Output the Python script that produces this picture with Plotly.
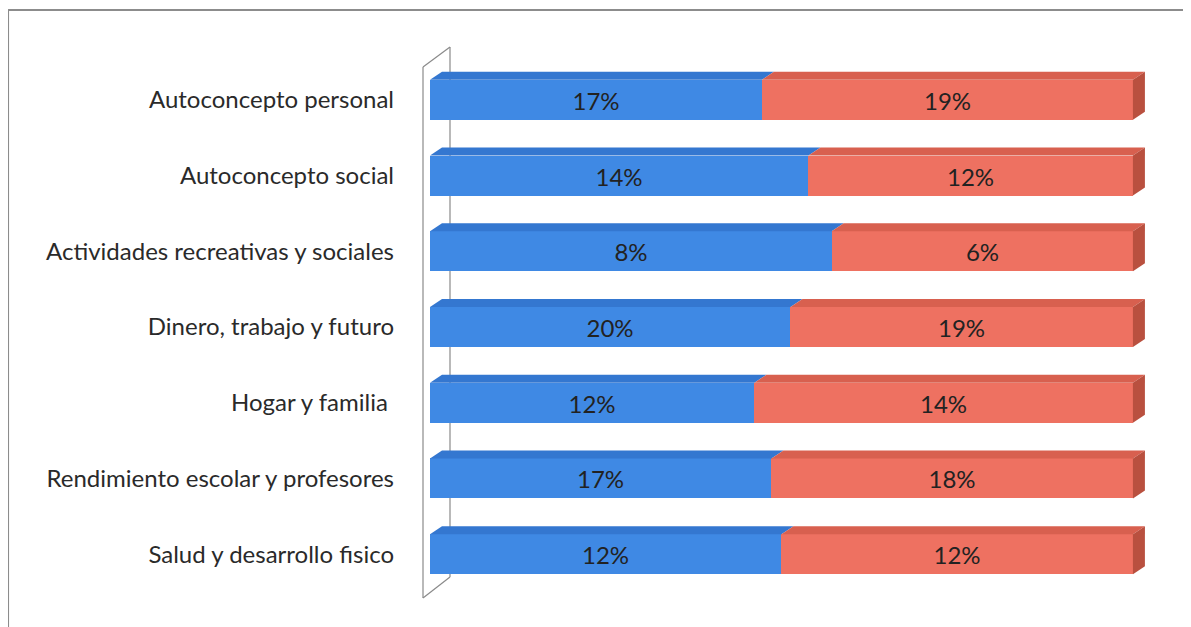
import plotly.graph_objects as go

categories = [
    "Autoconcepto personal",
    "Autoconcepto social",
    "Actividades recreativas y sociales",
    "Dinero, trabajo y futuro",
    "Hogar y familia ",
    "Rendimiento escolar y profesores",
    "Salud y desarrollo fisico",
]
serie_azul = [17, 14, 8, 20, 12, 17, 12]
serie_roja = [19, 12, 6, 19, 14, 18, 12]

OFF = 8  # page body margin
W, H = 1183, 619
ML, MT, MB = 422, 54, 35
unit_x_px = 703.0
x_max = 1.03
plot_w = unit_x_px * x_max
MR = W - ML - plot_w
plot_h = H - MT - MB
n = len(categories)
unit_px = plot_h / n

BLUE = "#3F89E4"
RED = "#EE7161"
BLUE_TOP = "#3477D0"
RED_TOP = "#D8604F"
RED_SIDE = "#B9503F"

bar_w = 40 / unit_px
dx = 12 / unit_x_px
dy = 8 / unit_px

ypos = list(range(n))
tot = [a + b for a, b in zip(serie_azul, serie_roja)]
frac_a = [a / t for a, t in zip(serie_azul, tot)]
frac_r = [b / t for b, t in zip(serie_roja, tot)]

fig = go.Figure()
fig.add_trace(go.Bar(
    y=ypos, x=frac_a, orientation="h", width=bar_w,
    marker=dict(color=BLUE, line=dict(width=0)),
    text=[f"{v}%" for v in serie_azul], textposition="inside",
    insidetextanchor="middle", textangle=0,
    textfont=dict(family="Lato", size=24, color="#222222"),
    showlegend=False,
))
fig.add_trace(go.Bar(
    y=ypos, x=frac_r, orientation="h", width=bar_w,
    marker=dict(color=RED, line=dict(width=0)),
    text=[f"{v}%" for v in serie_roja], textposition="inside",
    insidetextanchor="middle", textangle=0,
    textfont=dict(family="Lato", size=24, color="#222222"),
    showlegend=False,
))

shapes = []
for i in range(n):
    top = i - bar_w / 2
    bot = i + bar_w / 2
    xa = frac_a[i]
    xe = frac_a[i] + frac_r[i]
    shapes.append(dict(type="path", xref="x", yref="y",
                       path=f"M 0 {top} L {xa} {top} L {xa+dx} {top-dy} L {dx} {top-dy} Z",
                       fillcolor=BLUE_TOP, line=dict(width=0), layer="above"))
    shapes.append(dict(type="path", xref="x", yref="y",
                       path=f"M {xa} {top} L {xe} {top} L {xe+dx} {top-dy} L {xa+dx} {top-dy} Z",
                       fillcolor=RED_TOP, line=dict(width=0), layer="above"))
    shapes.append(dict(type="path", xref="x", yref="y",
                       path=f"M {xe} {top} L {xe+dx} {top-dy} L {xe+dx} {bot-dy} L {xe} {bot} Z",
                       fillcolor=RED_SIDE, line=dict(width=0), layer="above"))


def px(xw):
    return (xw - OFF - ML) / plot_w


def py(yw):
    return 1 - (yw - OFF - MT) / plot_h


wall_col = "#8a8a8a"
for (x0, y0, x1, y1) in [(423, 67, 423, 598), (450, 47, 450, 577),
                         (423, 67, 450, 47), (423, 598, 450, 577)]:
    shapes.append(dict(type="line", xref="paper", yref="paper",
                       x0=px(x0), y0=py(y0), x1=px(x1), y1=py(y1),
                       line=dict(color=wall_col, width=1.2), layer="below"))

shapes.append(dict(type="line", xref="paper", yref="paper",
                   x0=px(8), y0=py(10), x1=px(1188), y1=py(10),
                   line=dict(color="#8c8c8c", width=2), layer="below"))
shapes.append(dict(type="line", xref="paper", yref="paper",
                   x0=px(8), y0=py(10), x1=px(8), y1=py(640),
                   line=dict(color="#8c8c8c", width=2), layer="below"))
shapes.append(dict(type="line", xref="paper", yref="paper",
                   x0=px(1187), y0=py(10), x1=px(1187), y1=py(640),
                   line=dict(color="#dddddd", width=1), layer="below"))

fig.update_layout(
    width=W, height=H,
    barmode="stack",
    bargap=0,
    margin=dict(l=ML, r=MR, t=MT, b=MB, pad=0),
    paper_bgcolor="white", plot_bgcolor="white",
    shapes=shapes,
    uniformtext=dict(minsize=10, mode="show"),
)
fig.update_xaxes(range=[0, x_max], visible=False, fixedrange=True)
fig.update_yaxes(
    range=[n - 0.5, -0.5], tickmode="array", tickvals=ypos, ticktext=categories,
    showgrid=False, zeroline=False, showline=False, ticks="",
    ticklabelstandoff=35,
    tickfont=dict(family="Lato", size=24, color="#2a2a2a"),
)

fig.write_html("out.html")
